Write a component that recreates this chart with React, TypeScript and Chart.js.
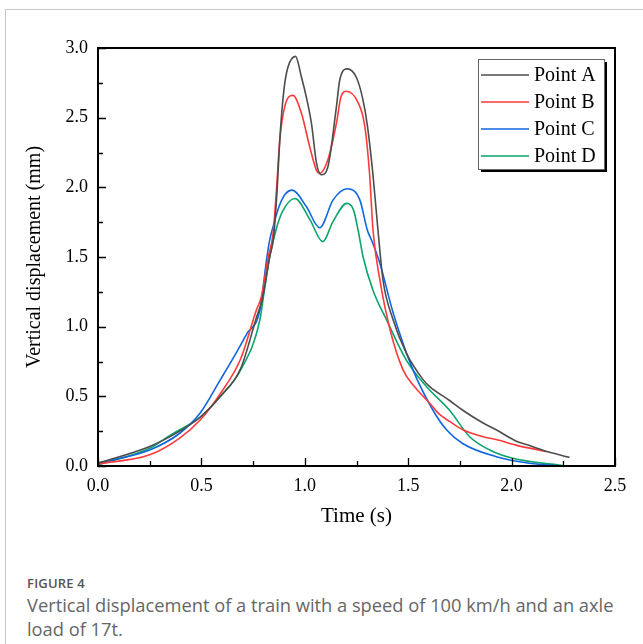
import React, { useEffect, useRef } from 'react';
import { Chart, registerables } from 'chart.js';

Chart.register(...registerables);

// ---- Data (time in s, vertical displacement in mm) ----
const seriesNames = ['Point A', 'Point B', 'Point C', 'Point D'];

const timeA = [0, 0.25, 0.395, 0.494, 0.592, 0.69, 0.767, 0.795, 0.83, 0.849, 0.866, 0.879, 0.899, 0.918, 0.955, 0.984, 1.007, 1.032, 1.057, 1.08, 1.112, 1.153, 1.169, 1.205, 1.249, 1.281, 1.303, 1.329, 1.354, 1.378, 1.427, 1.491, 1.572, 1.604, 1.70, 1.764, 1.86, 1.925, 2.02, 2.09, 2.18, 2.28];
const dispA = [0.02, 0.14, 0.25, 0.35, 0.5, 0.70, 1.07, 1.2, 1.5, 1.64, 1.98, 2.34, 2.70, 2.86, 2.94, 2.79, 2.65, 2.46, 2.17, 2.09, 2.15, 2.58, 2.77, 2.85, 2.79, 2.63, 2.44, 2.10, 1.69, 1.335, 1.05, 0.81, 0.62, 0.57, 0.47, 0.40, 0.31, 0.26, 0.18, 0.145, 0.10, 0.062];

const timeB = [0, 0.25, 0.395, 0.494, 0.592, 0.69, 0.766, 0.79, 0.823, 0.846, 0.863, 0.879, 0.903, 0.943, 0.984, 1.024, 1.057, 1.072, 1.112, 1.153, 1.175, 1.202, 1.257, 1.29, 1.313, 1.33, 1.363, 1.412, 1.475, 1.53, 1.572, 1.604, 1.652, 1.70, 1.764, 1.861, 1.925, 2.02, 2.167];
const dispB = [0.015, 0.08, 0.20, 0.33, 0.52, 0.77, 1.12, 1.215, 1.50, 1.66, 1.98, 2.34, 2.58, 2.66, 2.53, 2.29, 2.12, 2.10, 2.20, 2.46, 2.65, 2.69, 2.61, 2.44, 2.10, 1.69, 1.335, 0.98, 0.69, 0.57, 0.50, 0.45, 0.37, 0.32, 0.26, 0.21, 0.19, 0.15, 0.105];

const timeC = [0, 0.25, 0.395, 0.494, 0.592, 0.66, 0.72, 0.783, 0.815, 0.83, 0.849, 0.875, 0.905, 0.94, 1.008, 1.072, 1.137, 1.205, 1.266, 1.303, 1.323, 1.363, 1.427, 1.523, 1.62, 1.685, 1.765, 1.926, 2.087, 2.25];
const dispC = [0.02, 0.115, 0.235, 0.38, 0.62, 0.79, 0.95, 1.12, 1.48, 1.62, 1.73, 1.86, 1.95, 1.98, 1.86, 1.71, 1.91, 1.99, 1.91, 1.69, 1.62, 1.455, 1.10, 0.69, 0.40, 0.26, 0.16, 0.067, 0.02, 0.0];

const timeD = [0, 0.25, 0.348, 0.494, 0.592, 0.69, 0.783, 0.80, 0.83, 0.86, 0.89, 0.952, 1.024, 1.087, 1.135, 1.203, 1.235, 1.258, 1.282, 1.33, 1.395, 1.491, 1.588, 1.70, 1.797, 1.894, 2.006, 2.264];
const dispD = [0.008, 0.127, 0.22, 0.35, 0.50, 0.69, 1.05, 1.215, 1.50, 1.69, 1.82, 1.92, 1.77, 1.61, 1.75, 1.885, 1.84, 1.69, 1.50, 1.26, 1.05, 0.76, 0.57, 0.40, 0.21, 0.115, 0.055, 0.0];

const xTickStep = 0.25;
const yTickStep = 0.25;
const xRange = [0, 2.5];
const yRange = [0, 3.0];

const colors = ['#4d4d4d', '#ff3a3a', '#1066e0', '#0aa56a'];
const serif = '"Liberation Serif", "Times New Roman", serif';

const toPoints = (t: number[], d: number[]) => t.map((v, i) => ({ x: v, y: d[i] }));

const isMajor = (v: number) => Math.abs(v * 2 - Math.round(v * 2)) < 1e-6;

const framePlugin = {
  id: 'frameTicksLegend',
  afterDraw(chart: any) {
    const { ctx, chartArea } = chart;
    const { left, right, top, bottom } = chartArea;
    const xs = chart.scales.x;
    const ys = chart.scales.y;
    ctx.save();
    // ticks (inward)
    ctx.strokeStyle = '#000';
    ctx.lineWidth = 1.3;
    ctx.beginPath();
    xs.ticks.forEach((tk: any) => {
      const px = Math.round(xs.getPixelForValue(tk.value)) + 0.5;
      const len = isMajor(tk.value) ? 8 : 5;
      ctx.moveTo(px, bottom);
      ctx.lineTo(px, bottom - len);
    });
    ys.ticks.forEach((tk: any) => {
      const py = Math.round(ys.getPixelForValue(tk.value)) + 0.5;
      const len = isMajor(tk.value) ? 8 : 5;
      ctx.moveTo(left, py);
      ctx.lineTo(left + len, py);
    });
    ctx.stroke();
    // frame
    ctx.lineWidth = 2;
    ctx.strokeRect(left, top, right - left, bottom - top);

    // legend
    const bw = 126;
    const bh = 110;
    const bx = right - 11 - bw;
    const by = top + 11;
    ctx.fillStyle = '#000';
    ctx.fillRect(bx + 3, by + 3, bw, bh);
    ctx.fillStyle = '#fff';
    ctx.fillRect(bx, by, bw, bh);
    ctx.strokeStyle = '#666';
    ctx.lineWidth = 1;
    ctx.strokeRect(bx + 0.5, by + 0.5, bw, bh);
    ctx.font = '20px ' + serif;
    ctx.textBaseline = 'middle';
    ctx.textAlign = 'left';
    chart.data.datasets.forEach((ds: any, i: number) => {
      const ry = by + 16 + i * 27;
      ctx.strokeStyle = ds.borderColor;
      ctx.lineWidth = 1.6;
      ctx.beginPath();
      ctx.moveTo(bx + 3, ry);
      ctx.lineTo(bx + 51, ry);
      ctx.stroke();
      ctx.fillStyle = '#000';
      ctx.fillText(ds.label, bx + 56, ry + 1);
    });
    ctx.restore();
  },
};

export default function App() {
  const canvasRef = useRef<HTMLCanvasElement | null>(null);

  useEffect(() => {
    if (!canvasRef.current) return;
    const series = [
      toPoints(timeA, dispA),
      toPoints(timeB, dispB),
      toPoints(timeC, dispC),
      toPoints(timeD, dispD),
    ];
    const chart = new Chart(canvasRef.current, {
      type: 'line',
      data: {
        datasets: series.map((pts, i) => ({
          label: seriesNames[i],
          data: pts,
          borderColor: colors[i],
          backgroundColor: colors[i],
          borderWidth: 1.6,
          pointRadius: 0,
          cubicInterpolationMode: 'monotone' as const,
          fill: false,
        })),
      },
      options: {
        animation: false,
        responsive: false,
        layout: { padding: { top: 48, right: 28, left: 0, bottom: 0 } },
        plugins: {
          legend: { display: false },
          tooltip: { enabled: false },
        },
        scales: {
          x: {
            type: 'linear',
            min: xRange[0],
            max: xRange[1],
            afterFit: (s: any) => {
              s.height = 74;
            },
            grid: { display: false, drawTicks: false },
            border: { display: false },
            ticks: {
              stepSize: xTickStep,
              autoSkip: false,
              maxRotation: 0,
              padding: 9,
              color: '#000',
              font: { family: serif, size: 18 },
              callback: (v: any) => (isMajor(Number(v)) ? Number(v).toFixed(1) : ''),
            },
            title: {
              display: true,
              text: 'Time (s)',
              color: '#000',
              font: { family: serif, size: 21 },
              padding: { top: 0, bottom: 11 },
            },
          },
          y: {
            type: 'linear',
            min: yRange[0],
            max: yRange[1],
            afterFit: (s: any) => {
              s.width = 98;
            },
            grid: { display: false, drawTicks: false },
            border: { display: false },
            ticks: {
              stepSize: yTickStep,
              autoSkip: false,
              padding: 10,
              color: '#000',
              font: { family: serif, size: 18 },
              callback: (v: any) => (isMajor(Number(v)) ? Number(v).toFixed(1) : ''),
            },
            title: {
              display: true,
              text: 'Vertical displacement (mm)',
              color: '#000',
              font: { family: serif, size: 20 },
              padding: { top: 23, bottom: 0 },
            },
          },
        },
      },
      plugins: [framePlugin],
    });
    return () => chart.destroy();
  }, []);

  return (
    <div style={{ position: 'absolute', left: 0, top: 0, width: 643, height: 644, background: '#fff', overflow: 'hidden' }}>
      <div
        style={{
          position: 'absolute',
          left: 5,
          top: 9,
          width: 660,
          height: 660,
          borderTop: '1px solid #c8c8c8',
          borderLeft: '1px solid #c8c8c8',
        }}
      />
      <canvas ref={canvasRef} width={643} height={540} style={{ position: 'absolute', left: 0, top: 0, width: 643, height: 540 }} />
      <div
        style={{
          position: 'absolute',
          left: 27,
          top: 574,
          fontFamily: '"Open Sans", "Noto Sans", sans-serif',
          fontSize: 13,
          fontWeight: 600,
          color: '#555',
          letterSpacing: 0.2,
        }}
      >
        FIGURE 4
      </div>
      <div
        style={{
          position: 'absolute',
          left: 27,
          top: 593,
          width: 606,
          fontFamily: '"Open Sans", "Noto Sans", sans-serif',
          fontSize: 18.3,
          lineHeight: '24px',
          color: '#666',
        }}
      >
        Vertical displacement of a train with a speed of 100 km/h and an axle load of 17t.
      </div>
    </div>
  );
}
